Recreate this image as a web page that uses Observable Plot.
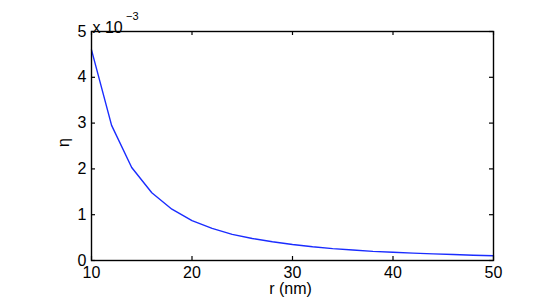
<!DOCTYPE html>
<html><head><meta charset="utf-8">
<script src="https://cdn.jsdelivr.net/npm/d3@7"></script>
<script src="https://cdn.jsdelivr.net/npm/@observablehq/plot@0.6"></script>
<style>body{margin:0;background:#fff}</style>
</head><body><div id="chart"></div>
<script>
const r = [10,12,14,16,18,20,22,24,26,28,30,32,34,36,38,40,42,44,46,48,50];
// eta in units of 1e-3
const eta = [4.6,2.95,2.03,1.48,1.12,0.87,0.70,0.57,0.48,0.41,0.35,0.30,0.26,0.23,0.20,0.18,0.16,0.145,0.13,0.115,0.105];
const xTicks = [10,20,30,40,50];
const yTicks = [0,1,2,3,4,5];
const xLabel = "r (nm)";
const yLabel = "η";
const expBase = "x 10";
const expPow = "−3";

const data = r.map((d,i)=>({r:d, eta:eta[i]*1e-3}));
const W=545,H=303,mL=91,mR=52,mT=31,mB=43;
const ph=H-mT-mB, pw=W-mL-mR;
const tl=4;
const chart = Plot.plot({
  width:W, height:H, marginLeft:mL, marginRight:mR, marginTop:mT, marginBottom:mB,
  style:{fontFamily:"'Liberation Sans', Arial, sans-serif", fontSize:"16px", color:"black", background:"white", overflow:"visible"},
  x:{domain:[10,50]},
  y:{domain:[0,0.005]},
  marks:[
    Plot.line(data,{x:"r",y:"eta",stroke:"#1a2cff",strokeWidth:1.4}),
    Plot.tickX(xTicks,{x:d=>d,insetTop:ph-tl,stroke:"black",strokeWidth:1.2}),
    Plot.tickX(xTicks,{x:d=>d,insetBottom:ph-tl,stroke:"black",strokeWidth:1.2}),
    Plot.tickY(yTicks,{y:d=>d*1e-3,insetRight:pw-tl,stroke:"black",strokeWidth:1.2}),
    Plot.tickY(yTicks,{y:d=>d*1e-3,insetLeft:pw-tl,stroke:"black",strokeWidth:1.2}),
    Plot.frame({stroke:"black",strokeWidth:1.4}),
    Plot.axisX({ticks:xTicks,tickSize:0,tickPadding:6,label:null,fontSize:16}),
    Plot.axisY({ticks:yTicks.map(d=>d*1e-3),tickSize:0,tickPadding:5,tickFormat:d=>String(Math.round(d*1e3)),label:null,fontSize:16}),
    Plot.text([xLabel],{frameAnchor:"bottom",dx:-2,dy:33,text:d=>d,fontSize:16}),
    Plot.text([yLabel],{frameAnchor:"left",dx:-28,dy:1,rotate:-90,text:d=>d,fontSize:16}),
    Plot.text([expBase],{frameAnchor:"top-left",textAnchor:"start",dx:1,dy:-10,text:d=>d,fontSize:16}),
    Plot.text([expPow],{frameAnchor:"top-left",textAnchor:"start",dx:34.5,dy:-19.5,text:d=>d,fontSize:11})
  ]
});
document.getElementById("chart").appendChild(chart);
</script>
</body></html>
